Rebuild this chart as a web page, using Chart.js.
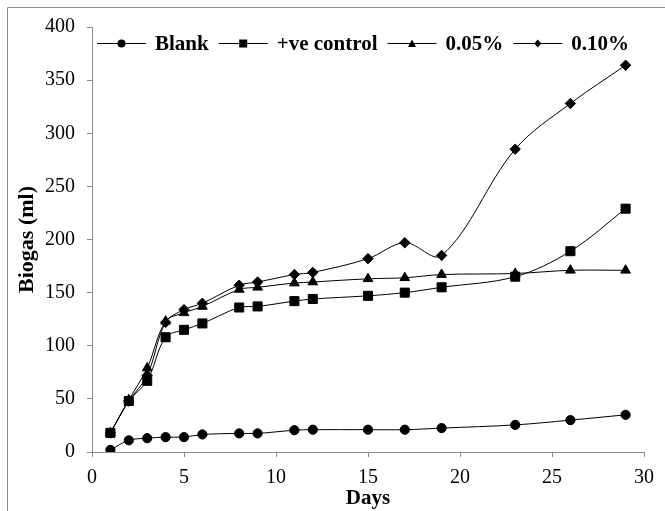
<!DOCTYPE html>
<html>
<head>
<meta charset="utf-8">
<script src="https://cdn.jsdelivr.net/npm/chart.js@4.4.0/dist/chart.umd.min.js"></script>
<style>
  html, body { margin: 0; padding: 0; background: #fff; }
  #wrap { position: relative; width: 665px; height: 511px; }
  .preload { position: absolute; left: -1000px; top: 0; font-family: 'Liberation Serif'; }
</style>
</head>
<body>
<div class="preload">Biogas 0123456789 <b>Blank Days</b></div>
<div id="wrap"><canvas id="graph" width="665" height="511"></canvas></div>
<script>
// sampling days and cumulative biogas (ml) per treatment
const days = [1, 2, 3, 4, 5, 6, 8, 9, 11, 12, 15, 17, 19, 23, 26, 29];
const blank = [2, 11, 13, 14, 14, 16.5, 17.5, 17.5, 20.5, 21, 21, 21, 22.5, 25.5, 30, 35];
const positiveControl = [18, 48, 67, 108, 115, 121, 136, 137, 142, 144, 147, 150, 155, 165, 189, 229];
const dose005 = [18, 49, 79, 123, 131, 137, 153, 155, 159, 160, 163, 164, 167, 168, 171, 171];
const dose010 = [18, 48, 72, 122, 134, 140, 157, 160, 167, 169, 182, 197, 185, 285, 328, 364];
const seriesNames = ['Blank', '+ve control', '0.05%', '0.10%'];
const xTicks = [0, 5, 10, 15, 20, 25, 30];
const yTicks = [0, 50, 100, 150, 200, 250, 300, 350, 400];

const fontFamily = "'Liberation Serif'";
const markers = ['circle', 'rect', 'triangle', 'rectRot'];
const radii = [4.6, 6.4, 5.6, 5.2];
const axisGrey = '#8c8c8c';

function toPoints(values) {
    return days.map((d, i) => ({ x: d, y: values[i] }));
}

function drawMarker(g, style, x, y) {
    g.beginPath();
    if (style === 'circle') {
        g.arc(x, y, 4, 0, Math.PI * 2);
    } else if (style === 'rect') {
        g.rect(x - 4, y - 4, 8, 8);
    } else if (style === 'triangle') {
        g.moveTo(x, y - 4);
        g.lineTo(x + 4, y + 3.5);
        g.lineTo(x - 4, y + 3.5);
        g.closePath();
    } else {
        g.moveTo(x, y - 4);
        g.lineTo(x + 3.5, y);
        g.lineTo(x, y + 4);
        g.lineTo(x - 3.5, y);
        g.closePath();
    }
    g.fill();
}

const allValues = [blank, positiveControl, dose005, dose010];

const datasets = allValues.map((vals, i) => ({
    label: seriesNames[i],
    data: toPoints(vals),
    borderColor: '#000',
    backgroundColor: '#000',
    borderWidth: 1,
    pointStyle: markers[i],
    pointRadius: radii[i],
    pointBackgroundColor: '#000',
    pointBorderColor: '#000',
    pointBorderWidth: 1,
    tension: 0.35,
    fill: false
}));

// Excel style legend in one row inside the plot, plus the left/top frame
const excelLegend = {
    id: 'excelLegend',
    afterDraw(chart) {
        const ctx = chart.ctx;
        const area = chart.chartArea;
        ctx.save();
        ctx.strokeStyle = axisGrey;
        ctx.lineWidth = 1;
        ctx.beginPath();
        ctx.moveTo(7.5, chart.height);
        ctx.lineTo(7.5, 7.5);
        ctx.lineTo(chart.width, 7.5);
        ctx.stroke();

        ctx.font = 'bold 21px ' + fontFamily;
        ctx.textBaseline = 'middle';
        ctx.fillStyle = '#000';
        ctx.strokeStyle = '#000';
        let x = area.left + 5;
        const y = area.top + 16.5;
        chart.data.datasets.forEach((ds, i) => {
            ctx.beginPath();
            ctx.moveTo(x, y);
            ctx.lineTo(x + 49, y);
            ctx.stroke();
            drawMarker(ctx, markers[i], x + 24.5, y);
            x += 58;
            ctx.fillText(ds.label, x, y + 1);
            x += ctx.measureText(ds.label).width + 10;
        });
        ctx.restore();
    }
};

Chart.defaults.color = '#000';
Chart.defaults.font.family = fontFamily;

const chart = new Chart(document.getElementById('graph').getContext('2d'), {
    type: 'line',
    data: { datasets: datasets },
    options: {
        responsive: false,
        animation: false,
        layout: { padding: { left: 0, right: 21, top: 27, bottom: 0 } },
        plugins: {
            tooltip: { enabled: false },
            legend: { display: false }
        },
        scales: {
            x: {
                type: 'linear',
                min: 0,
                max: 30,
                afterBuildTicks(scale) { scale.ticks = xTicks.map(v => ({ value: v })); },
                afterFit(scale) { scale.height = 59; },
                grid: { drawOnChartArea: false, drawTicks: true, tickLength: 5, color: axisGrey },
                border: { color: axisGrey, width: 1 },
                ticks: { font: { family: fontFamily, size: 20 }, color: '#000', padding: 9, maxRotation: 0 },
                title: { display: true, text: 'Days', font: { family: fontFamily, size: 21, weight: 'bold' }, color: '#000', padding: { top: 0, bottom: 0 } }
            },
            y: {
                min: 0,
                max: 400,
                afterBuildTicks(scale) { scale.ticks = yTicks.map(v => ({ value: v })); },
                afterFit(scale) { scale.width = 92; },
                grid: { drawOnChartArea: false, drawTicks: true, tickLength: 5, color: axisGrey },
                border: { color: axisGrey, width: 1 },
                ticks: { font: { family: fontFamily, size: 20 }, color: '#000', padding: 12 },
                title: { display: true, text: 'Biogas (ml)', font: { family: fontFamily, size: 22, weight: 'bold' }, color: '#000', padding: { top: 14, bottom: 0 } }
            }
        }
    },
    plugins: [excelLegend]
});

// redraw once the serif face is surely available
if (document.fonts && document.fonts.ready) {
    document.fonts.ready.then(() => chart.update('none'));
}
</script>
</body>
</html>
